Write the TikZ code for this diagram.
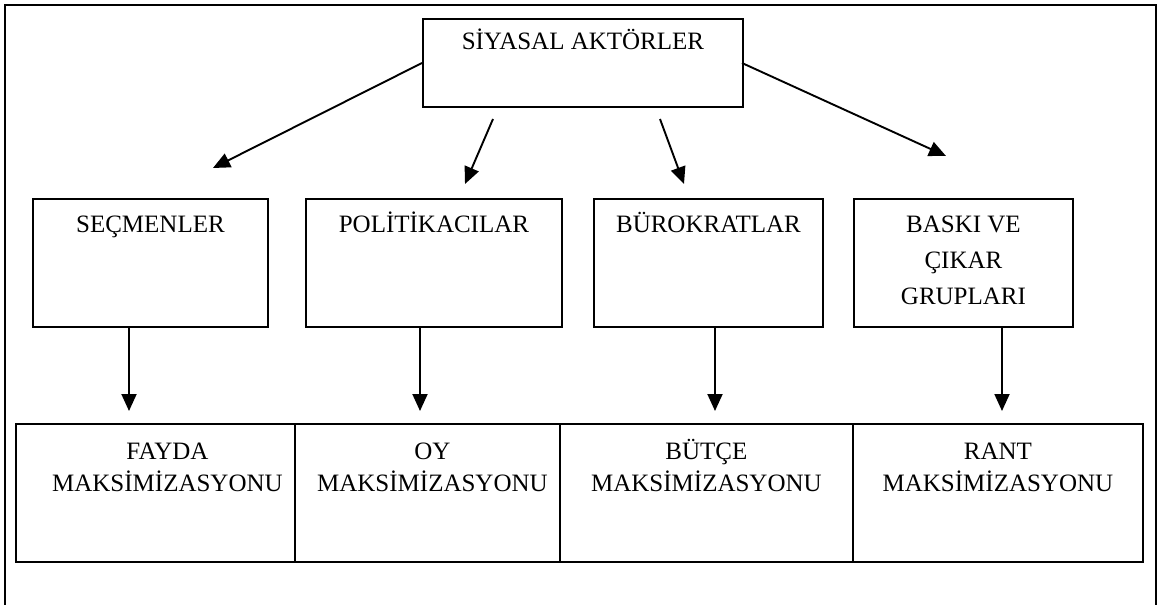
\documentclass[tikz,border=0pt]{standalone}
\usepackage{fontspec}
\setmainfont{Liberation Serif}
\usetikzlibrary{arrows.meta}
% box content: width, height, space above the first line, text
\newcommand\boxtext[4]{\parbox[t][#2][t]{#1}{\centering\vspace*{#3}\strut #4}}
\tikzset{
  box/.style={draw, line width=1.9pt, inner sep=0pt, anchor=north west},
  arr/.style={line width=1.9pt, -{Triangle[length=17pt,width=15pt]}},
  frame/.style={line width=2.8pt},
}
\begin{document}
\begin{tikzpicture}[x=1pt,y=-1pt,font=\fontsize{25}{32}\selectfont]
\useasboundingbox (0,0) rectangle (1160,605);
% outer frame, open at the bottom
\draw[frame] (5,606) -- (5,5) -- (1156,5) -- (1156,606);

% top level
\node[box] (aktor) at (422,18) {\boxtext{320pt}{88pt}{8pt}{SİYASAL AKTÖRLER}};

% actors
\node[box] (secmen) at (32,198)  {\boxtext{235pt}{128pt}{11pt}{SEÇMENLER}};
\node[box] (polit)  at (305,198) {\boxtext{256pt}{128pt}{11pt}{POLİTİKACILAR}};
\node[box] (burok)  at (593,198) {\boxtext{229pt}{128pt}{11pt}{BÜROKRATLAR}};
\node[box] (baski)  at (853,198) {\boxtext{219pt}{128pt}{11pt}{BASKI VE\\[4pt]ÇIKAR\\[4pt]GRUPLARI}};

% goals
\node[box] (fayda) at (15,423)  {\boxtext{279pt}{138pt}{13pt}{\hspace*{24pt}FAYDA\\\hspace*{24pt}MAKSİMİZASYONU}};
\node[box] (oy)    at (294,423) {\boxtext{265pt}{138pt}{13pt}{\hspace*{10pt}OY\\\hspace*{10pt}MAKSİMİZASYONU}};
\node[box] (butce) at (559,423) {\boxtext{293pt}{138pt}{13pt}{BÜTÇE\\MAKSİMİZASYONU}};
\node[box] (rant)  at (852,423) {\boxtext{290pt}{138pt}{13pt}{RANT\\MAKSİMİZASYONU}};

% arrows from the top box
\coordinate (s1) at (422,63);
\coordinate (e1) at (213,168);
\coordinate (s2) at (493,119);
\coordinate (e2) at (465,184);
\coordinate (s3) at (660,119);
\coordinate (e3) at (684,184);
\coordinate (s4) at (742,63);
\coordinate (e4) at (946,156);
\draw[arr] (s1) -- (e1);
\draw[arr] (s2) -- (e2);
\draw[arr] (s3) -- (e3);
\draw[arr] (s4) -- (e4);

% arrows from actors to goals
\coordinate (d1) at (129,411);
\coordinate (d2) at (420,411);
\coordinate (d3) at (715,411);
\coordinate (d4) at (1002,411);
\draw[arr] (secmen.south -| d1) -- (d1);
\draw[arr] (polit.south -| d2) -- (d2);
\draw[arr] (burok.south -| d3) -- (d3);
\draw[arr] (baski.south -| d4) -- (d4);
\end{tikzpicture}
\end{document}
